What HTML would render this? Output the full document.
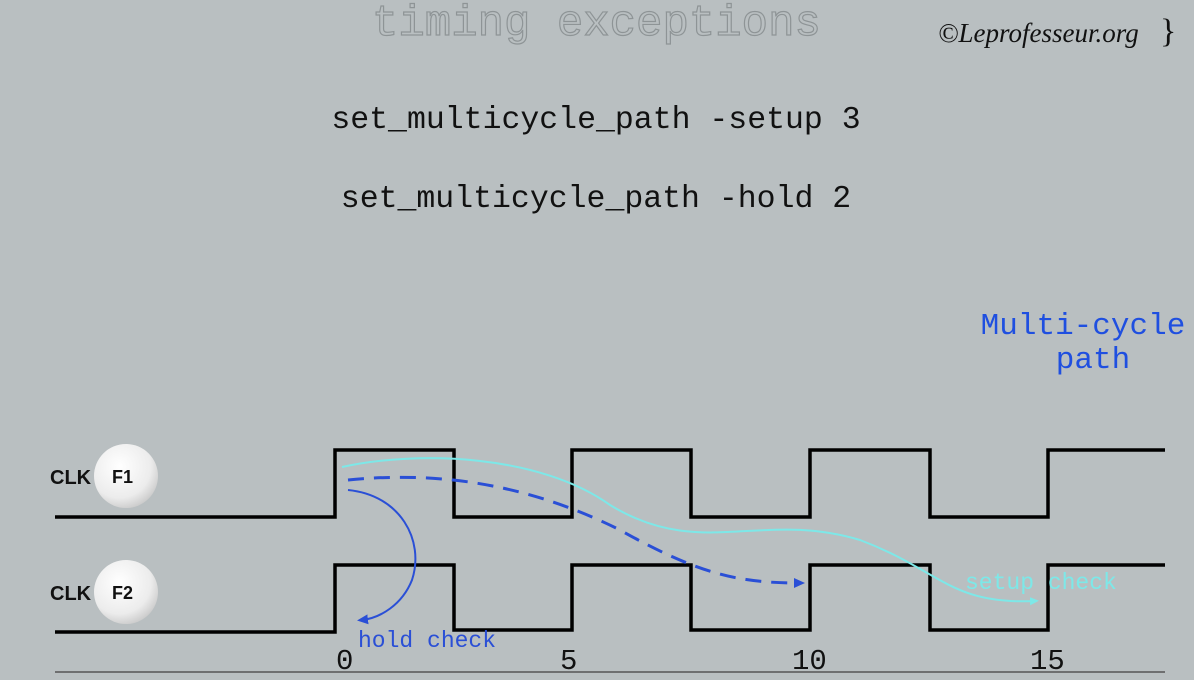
<!DOCTYPE html>
<html><head><style>
body{margin:0;background:#b9bfc1;}
svg{display:block}
</style></head><body>
<svg width="1194" height="680" xmlns="http://www.w3.org/2000/svg">
<defs>
<radialGradient id="g" cx="0.4" cy="0.35" r="0.7"><stop offset="0" stop-color="#ffffff"/><stop offset="0.7" stop-color="#ececec"/><stop offset="1" stop-color="#c8c8c8"/></radialGradient>
<marker id="ab" markerUnits="userSpaceOnUse" markerWidth="12" markerHeight="12" refX="6" refY="6" orient="auto"><path d="M0,1 L11,6 L0,11 Z" fill="#2a4fd6"/></marker>
<marker id="ac" markerUnits="userSpaceOnUse" markerWidth="10" markerHeight="10" refX="5" refY="5" orient="auto"><path d="M0,1 L9,5 L0,9 Z" fill="#7de8e8"/></marker>
</defs>
<rect width="1194" height="680" fill="#b9bfc1"/>
<text x="372" y="35" font-family="Liberation Mono, monospace" font-size="44" fill="none" stroke="#8e9496" stroke-width="1.2">timing exceptions</text>
<text x="938" y="42" font-family="Liberation Serif, serif" font-style="italic" font-size="27" fill="#111">©Leprofesseur.org</text>
<text x="1160" y="42" font-family="Liberation Serif, serif" font-size="34" fill="#111">}</text>
<text x="596" y="128" text-anchor="middle" font-family="Liberation Mono, monospace" font-size="31.5" fill="#111">set_multicycle_path -setup 3</text>
<text x="596" y="207" text-anchor="middle" font-family="Liberation Mono, monospace" font-size="31.5" fill="#111">set_multicycle_path -hold 2</text>
<text x="1083" y="334" text-anchor="middle" font-family="Liberation Mono, monospace" font-size="31" fill="#1f4fe0">Multi-cycle</text>
<text x="1093" y="368" text-anchor="middle" font-family="Liberation Mono, monospace" font-size="31" fill="#1f4fe0">path</text>
<g fill="none" stroke="#000" stroke-width="3.5">
<path d="M55,517 H335 V450 H454 V517 H572 V450 H691 V517 H810 V450 H930 V517 H1048 V450 H1165"/>
<path d="M55,632 H335 V565 H454 V630 H572 V565 H691 V630 H810 V565 H930 V630 H1048 V565 H1165"/>
</g>
<line x1="55" y1="672" x2="1165" y2="672" stroke="#555" stroke-width="1.5"/>
<g font-family="Liberation Mono, monospace" font-size="29" fill="#111">
<text x="336" y="669">0</text><text x="560" y="669">5</text><text x="792" y="669">10</text><text x="1030" y="669">15</text>
</g>
<g font-family="Liberation Sans, sans-serif" font-weight="bold" font-size="20" fill="#111">
<text x="50" y="484">CLK</text><text x="50" y="600">CLK</text>
</g>
<circle cx="126" cy="476" r="32" fill="url(#g)"/>
<circle cx="126" cy="592" r="32" fill="url(#g)"/>
<g font-family="Liberation Sans, sans-serif" font-weight="bold" font-size="18" fill="#111">
<text x="112" y="483">F1</text><text x="112" y="599">F2</text>
</g>
<path d="M342,467 C420,450 540,455 610,505 C700,560 760,510 860,540 C940,570 950,605 1035,601" fill="none" stroke="#7de8e8" stroke-width="2" marker-end="url(#ac)"/>
<path d="M348,480 C430,472 520,480 620,530 C700,575 740,583 800,583" fill="none" stroke="#2a4fd6" stroke-width="3" stroke-dasharray="16,10" marker-end="url(#ab)"/>
<path d="M348,490 C400,495 425,540 412,580 C402,605 380,618 362,620" fill="none" stroke="#2a4fd6" stroke-width="2" marker-end="url(#ab)"/>
<text x="358" y="647" font-family="Liberation Mono, monospace" font-size="23" fill="#2a4fd6">hold check</text>
<text x="965" y="589" font-family="Liberation Mono, monospace" font-size="23" fill="#7de8e8">setup check</text>
</svg>
</body></html>
